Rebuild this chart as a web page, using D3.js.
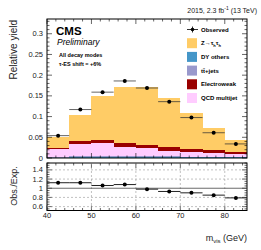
<!DOCTYPE html>
<html><head><meta charset="utf-8">
<script src="https://cdn.jsdelivr.net/npm/d3@7"></script>
<style>body{margin:0;background:#fff}svg{display:block}text{font-family:"Liberation Sans",Arial,sans-serif}</style>
</head><body>
<svg id="c" width="261" height="250"></svg>
<script>
const binEdges = [40,45,50,55,60,65,70,75,80,85];
const dyOthers   = [0.001,0.003,0.003,0.003,0.003,0.003,0.002,0.002,0.002];
const ttJets     = [0.0005,0.001,0.001,0.001,0.001,0.001,0.001,0.001,0.001];
const qcdMultijet= [0.0195,0.030,0.032,0.023,0.020,0.014,0.0115,0.010,0.007];
const electroweak= [0.003,0.007,0.007,0.009,0.008,0.008,0.007,0.006,0.005];
const zTauTau    = [0.026,0.063,0.107,0.1365,0.139,0.120,0.0865,0.053,0.0286];
const observed   = [0.054,0.117,0.159,0.186,0.169,0.136,0.0976,0.061,0.034];
const ratio      = [1.12,1.12,1.06,1.08,0.98,0.93,0.90,0.85,0.79];
const yTicks = [0,0.05,0.1,0.15,0.2,0.25,0.3];
const rTicks = [0.6,0.8,1,1.2,1.4];
const xTicks = [40,50,60,70,80];

const svg = d3.select("#c");
const L=47,R=247,T=19,B=158,RT=163,RB=210.5;
const x = d3.scaleLinear().domain([40,85]).range([L,R]);
const y = d3.scaleLinear().domain([0,0.3356]).range([B,T]);
const yr = d3.scaleLinear().domain([0.515,1.55]).range([RB,RT]);

const layers = [
  {name:"dy", vals:dyOthers, color:"#4496c8"},
  {name:"tt", vals:ttJets, color:"#9999cc"},
  {name:"qcd", vals:qcdMultijet, color:"#ffccff"},
  {name:"ew", vals:electroweak, color:"#990000"},
  {name:"ztt", vals:zTauTau, color:"#ffcc66"}
];
const bins = d3.range(binEdges.length-1);
const stackData = bins.map(i=>{const o={i}; layers.forEach(l=>o[l.name]=l.vals[i]); return o;});
const stacked = d3.stack().keys(layers.map(l=>l.name))(stackData);

const main = svg.append("g");
stacked.forEach((s,k)=>{
  main.selectAll(null).data(s).enter().append("rect")
    .attr("x",d=>x(binEdges[d.data.i]))
    .attr("width",d=>x(binEdges[d.data.i+1])-x(binEdges[d.data.i]))
    .attr("y",d=>y(d[1]))
    .attr("height",d=>Math.max(0,y(d[0])-y(d[1])))
    .attr("fill",layers[k].color).attr("shape-rendering","crispEdges");
});

// observed
const obsG = svg.append("g");
bins.forEach(i=>{
  const cx=(binEdges[i]+binEdges[i+1])/2;
  obsG.append("line").attr("x1",x(binEdges[i])).attr("x2",x(binEdges[i+1]))
    .attr("y1",y(observed[i])).attr("y2",y(observed[i])).attr("stroke","#333").attr("stroke-width",1).attr("opacity",0.75);
  obsG.append("line").attr("x1",x(cx)).attr("x2",x(cx))
    .attr("y1",y(observed[i]-0.003)).attr("y2",y(observed[i]+0.003)).attr("stroke","#000");
  obsG.append("circle").attr("cx",x(cx)).attr("cy",y(observed[i])).attr("r",2).attr("fill","#000");
});

// frames
function frame(t,b){svg.append("rect").attr("x",L).attr("y",t).attr("width",R-L).attr("height",b-t).attr("fill","none").attr("stroke","#000").attr("stroke-width",1);}
frame(T,B); frame(RT,RB);

// y ticks main
function yTickMarks(scale, t0, t1, major, minor, g){
  for(let v=t0; v<=t1+1e-9; v+=minor){
    const isMaj = Math.abs(v/major-Math.round(v/major))<1e-6;
    const len = isMaj?5:2.5;
    const yy=scale(v); if(yy<Math.min(...scale.range())-0.1||yy>Math.max(...scale.range())+0.1) continue;
    g.append("line").attr("x1",L).attr("x2",L+len).attr("y1",yy).attr("y2",yy).attr("stroke","#000").attr("stroke-width",0.6);
    g.append("line").attr("x1",R-len).attr("x2",R).attr("y1",yy).attr("y2",yy).attr("stroke","#000").attr("stroke-width",0.6);
  }
}
const tg = svg.append("g");
yTickMarks(y,0,0.33,0.05,0.01,tg);
yTickMarks(yr,0.55,1.55,0.2,0.05,tg);
// x ticks
function xTickMarks(top,bot){
  for(let v=40; v<=85; v+=2){
    const isMaj = v%10===0; const len=isMaj?5:2.5;
    tg.append("line").attr("x1",x(v)).attr("x2",x(v)).attr("y1",bot).attr("y2",bot-len).attr("stroke","#000").attr("stroke-width",0.6);
    tg.append("line").attr("x1",x(v)).attr("x2",x(v)).attr("y1",top).attr("y2",top+len).attr("stroke","#000").attr("stroke-width",0.6);
  }
}
xTickMarks(T,B); xTickMarks(RT,RB);

// y tick labels
svg.append("g").selectAll("text").data(yTicks).enter().append("text")
  .attr("x",43).attr("y",d=>y(d)+2.6).attr("text-anchor","end").attr("font-size",7.5).attr("fill","#222")
  .text(d=>d3.format("~g")(d));

// ratio grid
const rg = svg.append("g");
rTicks.filter(v=>v!==1).forEach(v=>rg.append("line").attr("x1",L).attr("x2",R).attr("y1",yr(v)).attr("y2",yr(v)).attr("stroke","#999").attr("stroke-width",0.6).attr("stroke-dasharray","2,2"));
xTicks.filter(v=>v!==40).forEach(v=>rg.append("line").attr("x1",x(v)).attr("x2",x(v)).attr("y1",RT).attr("y2",RB).attr("stroke","#999").attr("stroke-width",0.6).attr("stroke-dasharray","2,2"));
rg.append("line").attr("x1",L).attr("x2",R).attr("y1",yr(1)).attr("y2",yr(1)).attr("stroke","#444").attr("stroke-width",0.8);

// ratio points
bins.forEach(i=>{
  const cx=(binEdges[i]+binEdges[i+1])/2;
  rg.append("line").attr("x1",x(binEdges[i])).attr("x2",x(binEdges[i+1])).attr("y1",yr(ratio[i])).attr("y2",yr(ratio[i])).attr("stroke","#222").attr("stroke-width",1);
  rg.append("circle").attr("cx",x(cx)).attr("cy",yr(ratio[i])).attr("r",2).attr("fill","#000");
});
svg.append("g").selectAll("text").data(rTicks).enter().append("text")
  .attr("x",43).attr("y",d=>yr(d)+2.6).attr("text-anchor","end").attr("font-size",7.5).attr("fill","#222")
  .text(d=>d3.format("~g")(d));
svg.append("g").selectAll("text").data(xTicks).enter().append("text")
  .attr("x",d=>x(d)).attr("y",218).attr("text-anchor","middle").attr("font-size",7.5).attr("fill","#222")
  .text(d=>d);

// axis titles
svg.append("text").attr("transform","translate(17,20) rotate(-90)").attr("text-anchor","end").attr("font-size",10).attr("fill","#222").text("Relative yield");
svg.append("text").attr("transform","translate(17,186) rotate(-90)").attr("text-anchor","middle").attr("font-size",9).attr("fill","#222").text("Obs./Exp.");
const xl = svg.append("text").attr("x",247).attr("y",241).attr("text-anchor","end").attr("font-size",9).attr("fill","#222");
xl.append("tspan").text("m");
xl.append("tspan").attr("font-size",6).attr("dy",2).text("vis");
xl.append("tspan").attr("dy",-2).text(" (GeV)");

// title
const tt = svg.append("text").attr("x",257).attr("y",13).attr("text-anchor","end").attr("font-size",7).attr("fill","#222");
tt.append("tspan").text("2015, 2.3 fb");
tt.append("tspan").attr("font-size",5).attr("dy",-3).text("-1");
tt.append("tspan").attr("dy",3).text(" (13 TeV)");

svg.append("text").attr("x",56).attr("y",35).attr("font-size",11.5).attr("font-weight","bold").attr("fill","#000").text("CMS");
svg.append("text").attr("x",57).attr("y",44.5).attr("font-size",8.5).attr("font-style","italic").attr("fill","#000").text("Preliminary");
svg.append("text").attr("x",59).attr("y",57).attr("font-size",5.5).attr("font-weight","bold").attr("fill","#000").text("All decay modes");
svg.append("text").attr("x",59).attr("y",66).attr("font-size",5.5).attr("font-weight","bold").attr("fill","#000").text("τ-ES shift = +6%");

// legend
const leg = svg.append("g");
const lx=187, ly0=29.5, dy=13.7;
leg.append("line").attr("x1",lx).attr("x2",lx+11).attr("y1",ly0).attr("y2",ly0).attr("stroke","#000").attr("stroke-width",0.8);
leg.append("line").attr("x1",lx+5.5).attr("x2",lx+5.5).attr("y1",ly0-3).attr("y2",ly0+3).attr("stroke","#000").attr("stroke-width",0.8);
leg.append("circle").attr("cx",lx+5.5).attr("cy",ly0).attr("r",1.8).attr("fill","#000");
leg.append("text").attr("x",lx+14).attr("y",ly0+2).attr("font-size",6).attr("font-weight","bold").text("Observed");
const legItems = [
  {color:"#ffcc66", label:"ztt"},
  {color:"#4496c8", label:"DY others"},
  {color:"#9999cc", label:"tt"},
  {color:"#990000", label:"Electroweak"},
  {color:"#ffccff", label:"QCD multijet"}
];
legItems.forEach((it,k)=>{
  const yy = ly0 + dy*(k+1);
  leg.append("rect").attr("x",lx).attr("y",yy-5).attr("width",10).attr("height",10).attr("fill",it.color);
  const t = leg.append("text").attr("x",lx+14).attr("y",yy+2).attr("font-size",6).attr("font-weight","bold");
  if(it.label==="ztt"){
    t.append("tspan").text("Z→τ");
    t.append("tspan").attr("font-size",4).attr("dy",1.5).text("h");
    t.append("tspan").attr("dy",-1.5).text("τ");
    t.append("tspan").attr("font-size",4).attr("dy",1.5).text("h");
  } else if(it.label==="tt"){
    t.text("tt\u0304+jets");
  } else t.text(it.label);
});
</script>
</body></html>
